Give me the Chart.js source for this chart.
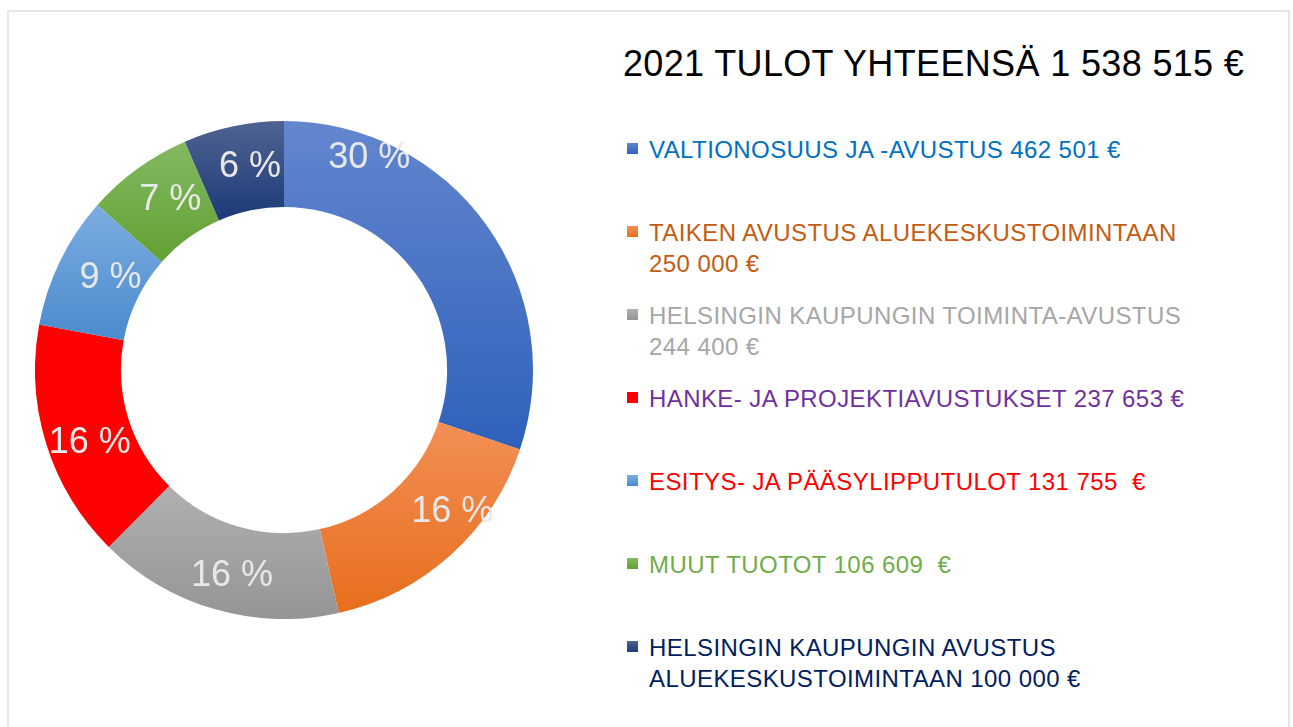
<!DOCTYPE html>
<html>
<head>
<meta charset="utf-8">
<script src="https://cdn.jsdelivr.net/npm/chart.js@4"></script>
<style>
  html, body { margin: 0; padding: 0; background: #fff; overflow: hidden; }
  body { width: 1293px; height: 727px; position: relative; font-family: "Liberation Sans", Arial, sans-serif; }
  .frame { position: absolute; left: 7px; top: 10px; width: 1279px; height: 730px; border: 2px solid #e3e6ee; border-bottom: none; }
  .pie { position: absolute; left: 35px; top: 121px; width: 498px; height: 498px; }
  .title { position: absolute; left: 623px; top: 44px; font-size: 36px; line-height: 40px; color: #000; white-space: nowrap; letter-spacing: 0.35px; }
  ul.legend { position: absolute; left: 627px; top: 134px; margin: 0; padding: 0; list-style: none; }
  ul.legend li { height: 83px; display: flex; align-items: flex-start; }
  ul.legend .sw { width: 11px; height: 11px; margin-top: 9px; margin-right: 11px; flex: none; }
  ul.legend .tx { font-size: 24px; line-height: 31px; white-space: pre; letter-spacing: 0.42px; }
</style>
</head>
<body>
<div class="frame"></div>
<div class="pie"><canvas id="c"></canvas></div>
<div class="title" id="title"></div>
<ul class="legend" id="legend"></ul>

<script>
const chartTitle = '2021 TULOT YHTEENSÄ 1 538 515 €';

const categories = [
  ['VALTIONOSUUS JA -AVUSTUS 462 501 €'],
  ['TAIKEN AVUSTUS ALUEKESKUSTOIMINTAAN', '250 000 €'],
  ['HELSINGIN KAUPUNGIN TOIMINTA-AVUSTUS', '244 400 €'],
  ['HANKE- JA PROJEKTIAVUSTUKSET 237 653 €'],
  ['ESITYS- JA PÄÄSYLIPPUTULOT 131 755  €'],
  ['MUUT TUOTOT 106 609  €'],
  ['HELSINGIN KAUPUNGIN AVUSTUS', 'ALUEKESKUSTOIMINTAAN 100 000 €'],
];
const amounts = [462501, 250000, 244400, 237653, 131755, 106609, 100000];
const percentLabels = ['30 %', '16 %', '16 %', '16 %', '9 %', '7 %', '6 %'];

// slice fills, light at top -> darker at bottom
const fillTop = ['#6386ce', '#f38f56', '#b0b0b0', '#ff0000', '#7cade1', '#83b962', '#4f6391'];
const fillBottom = ['#2f61bb', '#e76e1c', '#959595', '#ff0000', '#4a8bcd', '#61a132', '#1c3a77'];
const legendTextColors = ['#0070c0', '#c55a11', '#a6a6a6', '#7030a0', '#ff0000', '#70ad47', '#002060'];

const CUTOUT = 0.655;

document.getElementById('title').textContent = chartTitle;
document.getElementById('legend').innerHTML = categories.map((lines, i) => `
  <li>
    <span class="sw" style="background:linear-gradient(${fillTop[i]}, ${fillBottom[i]})"></span>
    <span class="tx" style="color:${legendTextColors[i]}">${lines.join('\n')}</span>
  </li>`).join('');

const total = amounts.reduce((a, b) => a + b, 0);

function sliceGeom(chart, i) {
  const a = chart.chartArea;
  const cx = (a.left + a.right) / 2, cy = (a.top + a.bottom) / 2;
  const r = Math.min(a.right - a.left, a.bottom - a.top) / 2;
  let before = 0;
  for (let k = 0; k < i; k++) before += amounts[k];
  const s = -Math.PI / 2 + before / total * Math.PI * 2;
  const e = s + amounts[i] / total * Math.PI * 2;
  return { cx, cy, r, ri: r * CUTOUT, s, e };
}

function sliceFill(ctx) {
  const chart = ctx.chart;
  const i = ctx.dataIndex;
  if (!chart.chartArea || i === undefined) return fillTop[i] || '#888';
  const g = sliceGeom(chart, i);
  let minY = Infinity, maxY = -Infinity;
  for (let k = 0; k <= 30; k++) {
    const t = g.s + (g.e - g.s) * k / 30;
    for (const rr of [g.r, g.ri]) {
      const y = g.cy + Math.sin(t) * rr;
      minY = Math.min(minY, y); maxY = Math.max(maxY, y);
    }
  }
  const grad = chart.ctx.createLinearGradient(0, minY, 0, maxY);
  grad.addColorStop(0, fillTop[i]);
  grad.addColorStop(1, fillBottom[i]);
  return grad;
}

// where each percent label sits: fraction along the slice, fraction across the ring
const labelSpots = [[0.2, 0.78], [0.36, 0.65], [0.47, 0.55], [0.45, 0.51], [0.58, 0.4], [0.6, 0.5], [0.6, 0.52]];

const percentPlugin = {
  id: 'percentPlugin',
  afterDatasetsDraw(chart) {
    const c = chart.ctx;
    c.save();
    c.font = '36px "Liberation Sans", Arial, sans-serif';
    c.fillStyle = '#e8e8e8';
    c.textAlign = 'center';
    c.textBaseline = 'middle';
    percentLabels.forEach((txt, i) => {
      const g = sliceGeom(chart, i);
      const [ft, fr] = labelSpots[i];
      const ang = g.s + (g.e - g.s) * ft;
      const rad = g.ri + (g.r - g.ri) * fr;
      c.fillText(txt, g.cx + Math.cos(ang) * rad, g.cy + Math.sin(ang) * rad + 2);
    });
    c.restore();
  },
};

new Chart(document.getElementById('c'), {
  type: 'doughnut',
  data: {
    labels: categories,
    datasets: [{
      data: amounts,
      backgroundColor: sliceFill,
      borderWidth: 0,
    }],
  },
  options: {
    responsive: true,
    maintainAspectRatio: false,
    animation: false,
    cutout: (CUTOUT * 100) + '%',
    layout: { padding: 0 },
    plugins: { legend: { display: false }, tooltip: { enabled: false } },
  },
  plugins: [percentPlugin],
});
</script>
</body>
</html>
